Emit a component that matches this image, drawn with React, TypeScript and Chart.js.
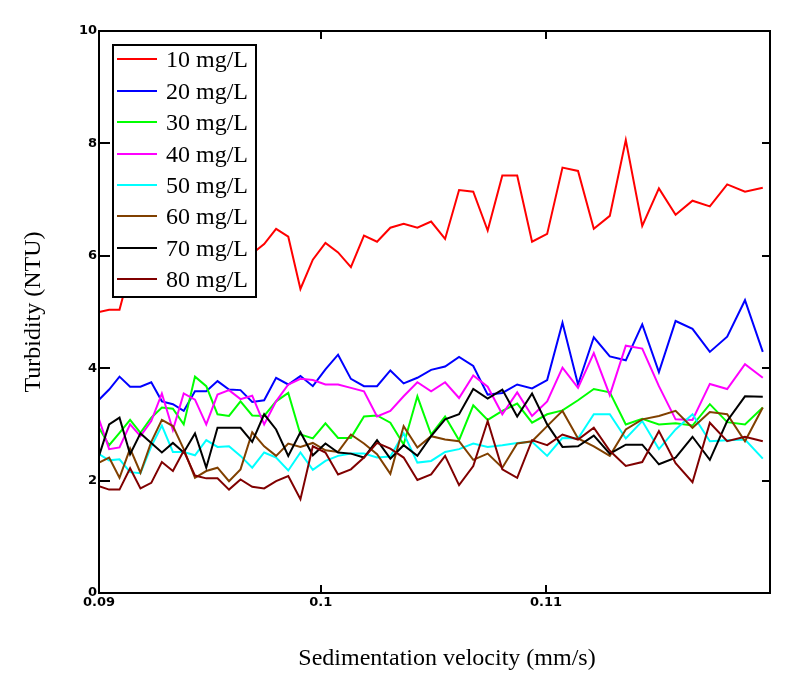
import { useEffect, useRef } from "react";
import { Chart, registerables } from "chart.js";

Chart.register(...registerables);

// sedimentation velocity (mm/s), one entry per sample
const velocity = [
  0.09016, 0.09061, 0.09107, 0.09154, 0.092, 0.09248, 0.09295, 0.09344, 0.09392, 0.09442,
  0.09492, 0.09542, 0.09593, 0.09644, 0.09696, 0.09749, 0.09802, 0.09856, 0.0991, 0.09965,
  0.10021, 0.10077, 0.10134, 0.10192, 0.1025, 0.10309, 0.10368, 0.10429, 0.1049, 0.10552,
  0.10614, 0.10677, 0.10741, 0.10806, 0.10872, 0.10938, 0.11005, 0.11073, 0.11142, 0.11212,
  0.11283, 0.11354, 0.11427, 0.11501, 0.11575, 0.1165, 0.11727, 0.11804, 0.11883, 0.11962,
];

const turbidity10 = [
  5.0, 5.04, 5.04, 5.75, 5.6, 5.85, 5.7, 5.95, 5.8, 6.0, 5.85, 6.1, 5.95, 6.15, 6.04, 6.21, 6.48,
  6.34, 5.41, 5.93, 6.23, 6.06, 5.8, 6.36, 6.25, 6.5, 6.57, 6.5, 6.61, 6.3, 7.17, 7.14, 6.45, 7.43,
  7.43, 6.25, 6.39, 7.57, 7.51, 6.48, 6.71, 8.06, 6.53, 7.2, 6.73, 6.98, 6.88, 7.27, 7.14, 7.21,
];
const turbidity20 = [
  3.44, 3.62, 3.85, 3.67, 3.67, 3.75, 3.41, 3.36, 3.24, 3.59, 3.59, 3.77, 3.62, 3.61, 3.4, 3.43,
  3.83, 3.71, 3.86, 3.68, 3.98, 4.24, 3.81, 3.68, 3.68, 3.96, 3.73, 3.83, 3.97, 4.03, 4.2, 4.04,
  3.53, 3.56, 3.71, 3.64, 3.79, 4.81, 3.71, 4.55, 4.21, 4.14, 4.78, 3.93, 4.84, 4.7, 4.29, 4.56,
  5.21, 4.29,
];
const turbidity30 = [
  2.94, 2.63, 2.85, 3.08, 2.85, 3.12, 3.3, 3.28, 3.0, 3.85, 3.68, 3.18, 3.15, 3.41, 3.16, 3.15,
  3.41, 3.56, 2.82, 2.75, 3.02, 2.76, 2.76, 3.14, 3.16, 3.03, 2.64, 3.5, 2.82, 3.14, 2.72, 3.34,
  3.08, 3.24, 3.37, 3.03, 3.18, 3.25, 3.43, 3.63, 3.57, 3.0, 3.1, 3.0, 3.02, 2.98, 3.36, 3.04, 3.0,
  3.3,
];
const turbidity40 = [
  3.09, 2.56, 2.59, 3.0, 2.79, 3.06, 3.55, 2.9, 3.55, 3.44, 3.0, 3.53, 3.61, 3.45, 3.51, 3.0, 3.41,
  3.71, 3.81, 3.79, 3.71, 3.71, 3.65, 3.59, 3.14, 3.24, 3.5, 3.75, 3.59, 3.75, 3.47, 3.87, 3.67,
  3.18, 3.57, 3.15, 3.41, 4.01, 3.65, 4.27, 3.52, 4.4, 4.35, 3.68, 3.09, 3.08, 3.72, 3.63, 4.07,
  3.83,
];
const turbidity50 = [
  2.47, 2.36, 2.38, 2.15, 2.13, 2.61, 2.98, 2.51, 2.51, 2.45, 2.72, 2.6, 2.61, 2.44, 2.23, 2.5,
  2.41, 2.18, 2.5, 2.19, 2.35, 2.44, 2.48, 2.48, 2.41, 2.43, 2.84, 2.32, 2.35, 2.51, 2.56, 2.66,
  2.6, 2.63, 2.67, 2.69, 2.44, 2.76, 2.75, 3.18, 3.18, 2.75, 3.06, 2.56, 2.91, 3.18, 2.7, 2.72,
  2.73, 2.39,
];
const turbidity60 = [
  2.32, 2.41, 2.05, 2.57, 2.14, 2.69, 3.08, 2.97, 2.56, 2.05, 2.17, 2.23, 1.99, 2.2, 2.86, 2.61,
  2.44, 2.66, 2.6, 2.67, 2.54, 2.51, 2.82, 2.66, 2.47, 2.12, 2.97, 2.59, 2.79, 2.73, 2.7, 2.37,
  2.48, 2.23, 2.66, 2.7, 2.97, 3.24, 2.75, 2.61, 2.44, 2.91, 3.09, 3.15, 3.24, 2.94, 3.22, 3.18,
  2.7, 3.3,
];
const turbidity70 = [
  2.44, 3.0, 3.12, 2.47, 2.84, 2.67, 2.5, 2.67, 2.5, 2.84, 2.23, 2.94, 2.94, 2.94, 2.69, 3.18,
  2.91, 2.44, 2.86, 2.45, 2.66, 2.5, 2.48, 2.41, 2.72, 2.39, 2.63, 2.44, 2.79, 3.09, 3.18, 3.63,
  3.46, 3.62, 3.14, 3.55, 3.0, 2.6, 2.61, 2.8, 2.48, 2.64, 2.64, 2.29, 2.41, 2.78, 2.37, 3.06, 3.5,
  3.49,
];
const turbidity80 = [
  1.9, 1.84, 1.84, 2.22, 1.86, 1.96, 2.33, 2.17, 2.53, 2.09, 2.04, 2.04, 1.84, 2.02, 1.89, 1.86,
  1.99, 2.08, 1.67, 2.61, 2.5, 2.11, 2.2, 2.41, 2.67, 2.57, 2.41, 2.01, 2.11, 2.44, 1.92, 2.26,
  3.06, 2.2, 2.05, 2.72, 2.63, 2.82, 2.73, 2.94, 2.53, 2.26, 2.33, 2.88, 2.31, 1.97, 3.03, 2.7,
  2.78, 2.7,
];

const seriesLabels = ["10 mg/L", "20 mg/L", "30 mg/L", "40 mg/L", "50 mg/L", "60 mg/L", "70 mg/L", "80 mg/L"];
const seriesValues = [
  turbidity10, turbidity20, turbidity30, turbidity40,
  turbidity50, turbidity60, turbidity70, turbidity80,
];
const seriesColors = ["#ff0000", "#0000ff", "#00ff00", "#ff00ff", "#00ffff", "#804000", "#000000", "#800000"];

const xTickValues = [0.09016, 0.1, 0.11];
const xTickLabels = ["0.09", "0.1", "0.11"];
const yTickValues = [0, 2, 4, 6, 8, 10];

const X_MIN = 0.09016;
const X_MAX = 0.11994;

const SERIF = "'Liberation Serif', 'Times New Roman', serif";
const TICK_FONT = { family: "'DejaVu Sans', sans-serif", size: 13, weight: "bold" as const };

// box, inner tick marks, the boxed legend and the axis titles
const mathcadFrame = {
  id: "mathcadFrame",
  afterDraw(chart: Chart) {
    const { ctx, chartArea: a } = chart;
    const xs = chart.scales.x;
    const ys = chart.scales.y;
    ctx.save();
    ctx.strokeStyle = "#000";
    ctx.lineWidth = 2;
    ctx.strokeRect(a.left, a.top, a.right - a.left, a.bottom - a.top);

    ctx.beginPath();
    yTickValues.slice(1, -1).forEach((v) => {
      const py = Math.round(ys.getPixelForValue(v));
      ctx.moveTo(a.left, py);
      ctx.lineTo(a.left + 11, py);
      ctx.moveTo(a.right, py);
      ctx.lineTo(a.right - 8, py);
    });
    xTickValues.slice(1).forEach((v) => {
      const px = Math.round(xs.getPixelForValue(v));
      ctx.moveTo(px, a.bottom);
      ctx.lineTo(px, a.bottom - 8);
      ctx.moveTo(px, a.top);
      ctx.lineTo(px, a.top + 8);
    });
    ctx.stroke();

    // legend
    const lx = a.left + 14;
    const ly = a.top + 14;
    const rowH = 31.4;
    const lw = 143;
    const lh = 252;
    ctx.fillStyle = "#fff";
    ctx.fillRect(lx, ly, lw, lh);
    ctx.strokeRect(lx, ly, lw, lh);
    ctx.font = `24px ${SERIF}`;
    ctx.textAlign = "left";
    ctx.textBaseline = "alphabetic";
    chart.data.datasets.forEach((ds, i) => {
      const ry = Math.round(ly + 14.3 + i * rowH);
      ctx.strokeStyle = ds.borderColor as string;
      ctx.beginPath();
      ctx.moveTo(lx + 4, ry);
      ctx.lineTo(lx + 44, ry);
      ctx.stroke();
      ctx.fillStyle = "#000";
      ctx.fillText(ds.label ?? "", lx + 53, ry + 8);
    });

    // axis titles
    ctx.fillStyle = "#000";
    ctx.textAlign = "center";
    ctx.textBaseline = "middle";
    ctx.fillText("Sedimentation velocity (mm/s)", 447, 659);
    ctx.translate(34, (a.top + a.bottom) / 2);
    ctx.rotate(-Math.PI / 2);
    ctx.fillText("Turbidity (NTU)", 0, 0);
    ctx.restore();
  },
};

export default function App() {
  const chartRef = useRef<HTMLCanvasElement>(null);
  const chartInstance = useRef<Chart | null>(null);

  useEffect(() => {
    document.body.style.margin = "0";
    if (!chartRef.current) return;

    if (chartInstance.current) {
      chartInstance.current.destroy();
    }

    const ctx = chartRef.current.getContext("2d");
    if (!ctx) return;

    chartInstance.current = new Chart(ctx, {
      type: "line",
      data: {
        datasets: seriesValues.map((values, i) => ({
          label: seriesLabels[i],
          data: velocity.map((v, j) => ({ x: v, y: values[j] })),
          borderColor: seriesColors[i],
          backgroundColor: seriesColors[i],
          borderWidth: 2,
          pointRadius: 0,
          tension: 0,
          fill: false,
          order: seriesValues.length - i,
        })),
      },
      options: {
        responsive: false,
        animation: false,
        events: [],
        layout: {
          padding: { top: 31, right: 40, bottom: 0, left: 0 },
        },
        plugins: {
          legend: { display: false },
          tooltip: { enabled: false },
        },
        scales: {
          x: {
            type: "linear",
            min: X_MIN,
            max: X_MAX,
            grid: { display: false, drawTicks: false },
            border: { display: false },
            afterBuildTicks: (scale) => {
              scale.ticks = xTickValues.map((value) => ({ value }));
            },
            afterFit: (scale) => {
              scale.height = 92;
            },
            ticks: {
              autoSkip: false,
              maxRotation: 0,
              padding: 2,
              color: "#000",
              font: TICK_FONT,
              callback: (_value, index) => xTickLabels[index],
            },
          },
          y: {
            min: 0,
            max: 10,
            grid: { display: false, drawTicks: false },
            border: { display: false },
            afterBuildTicks: (scale) => {
              scale.ticks = yTickValues.map((value) => ({ value }));
            },
            afterFit: (scale) => {
              scale.width = 99;
            },
            ticks: {
              padding: 2,
              color: "#000",
              font: TICK_FONT,
            },
          },
        },
      },
      plugins: [mathcadFrame],
    });

    return () => {
      if (chartInstance.current) {
        chartInstance.current.destroy();
        chartInstance.current = null;
      }
    };
  }, []);

  return (
    <div style={{ width: 810, height: 685 }}>
      <canvas ref={chartRef} width={810} height={685} />
    </div>
  );
}
